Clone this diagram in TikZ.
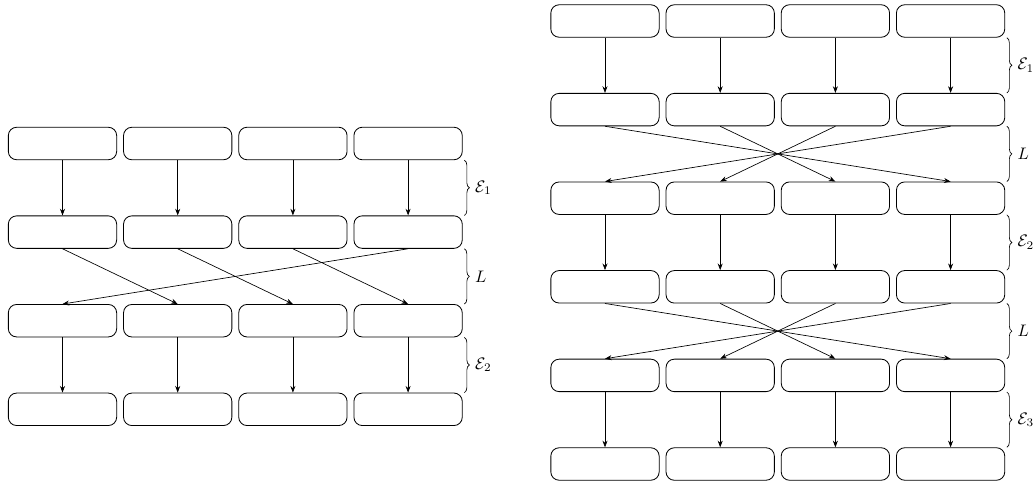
\documentclass[tikz,border=0pt]{standalone}
\usepackage{amsmath,amssymb}
\usetikzlibrary{positioning,arrows.meta,decorations.pathreplacing}

\begin{document}
\begin{tikzpicture}[
    x=0.6pt, y=-0.6pt,
    blk/.style={draw, rectangle, rounded corners=5pt, minimum width=65pt, minimum height=19.5pt, inner sep=0pt, line width=0.5pt},
    arr/.style={-{Stealth[length=4pt,width=3pt]}},
    brc/.style={decorate, decoration={brace, amplitude=3pt}},
    lbl/.style={midway, right=3pt}
]
    \useasboundingbox (0,0) rectangle (1035,484);

    % left: two layers, cyclic shift
    \foreach \r in {1,...,4} {
        \foreach \c in {1,...,4} {
            \node [blk] (a\r\c) at ({62.5+115.2*(\c-1)}, {143.5+88.6*(\r-1)}) {};
        }
    }
    \foreach \c [evaluate=\c as \d using {int(mod(\c,4)+1)}] in {1,...,4} {
        \draw [arr] (a1\c) -- (a2\c);
        \draw [arr] (a2\c.south) -- (a3\d.north);
        \draw [arr] (a3\c) -- (a4\c);
    }
    \draw [brc] ([xshift=1pt]a14.south east) -- ([xshift=1pt]a24.north east) node [lbl] {$\mathcal{E}_1$};
    \draw [brc] ([xshift=1pt]a24.south east) -- ([xshift=1pt]a34.north east) node [lbl] {$L$};
    \draw [brc] ([xshift=1pt]a34.south east) -- ([xshift=1pt]a44.north east) node [lbl] {$\mathcal{E}_2$};

    % right: three layers, reversal
    \foreach \r in {1,...,6} {
        \foreach \c in {1,...,4} {
            \node [blk] (b\r\c) at ({605+115.2*(\c-1)}, {21+88.6*(\r-1)}) {};
        }
    }
    \foreach \c [evaluate=\c as \d using {int(5-\c)}] in {1,...,4} {
        \draw [arr] (b1\c) -- (b2\c);
        \draw [arr] (b2\c.south) -- (b3\d.north);
        \draw [arr] (b3\c) -- (b4\c);
        \draw [arr] (b4\c.south) -- (b5\d.north);
        \draw [arr] (b5\c) -- (b6\c);
    }
    \draw [brc] ([xshift=1pt]b14.south east) -- ([xshift=1pt]b24.north east) node [lbl] {$\mathcal{E}_1$};
    \draw [brc] ([xshift=1pt]b24.south east) -- ([xshift=1pt]b34.north east) node [lbl] {$L$};
    \draw [brc] ([xshift=1pt]b34.south east) -- ([xshift=1pt]b44.north east) node [lbl] {$\mathcal{E}_2$};
    \draw [brc] ([xshift=1pt]b44.south east) -- ([xshift=1pt]b54.north east) node [lbl] {$L$};
    \draw [brc] ([xshift=1pt]b54.south east) -- ([xshift=1pt]b64.north east) node [lbl] {$\mathcal{E}_3$};
\end{tikzpicture}
\end{document}
